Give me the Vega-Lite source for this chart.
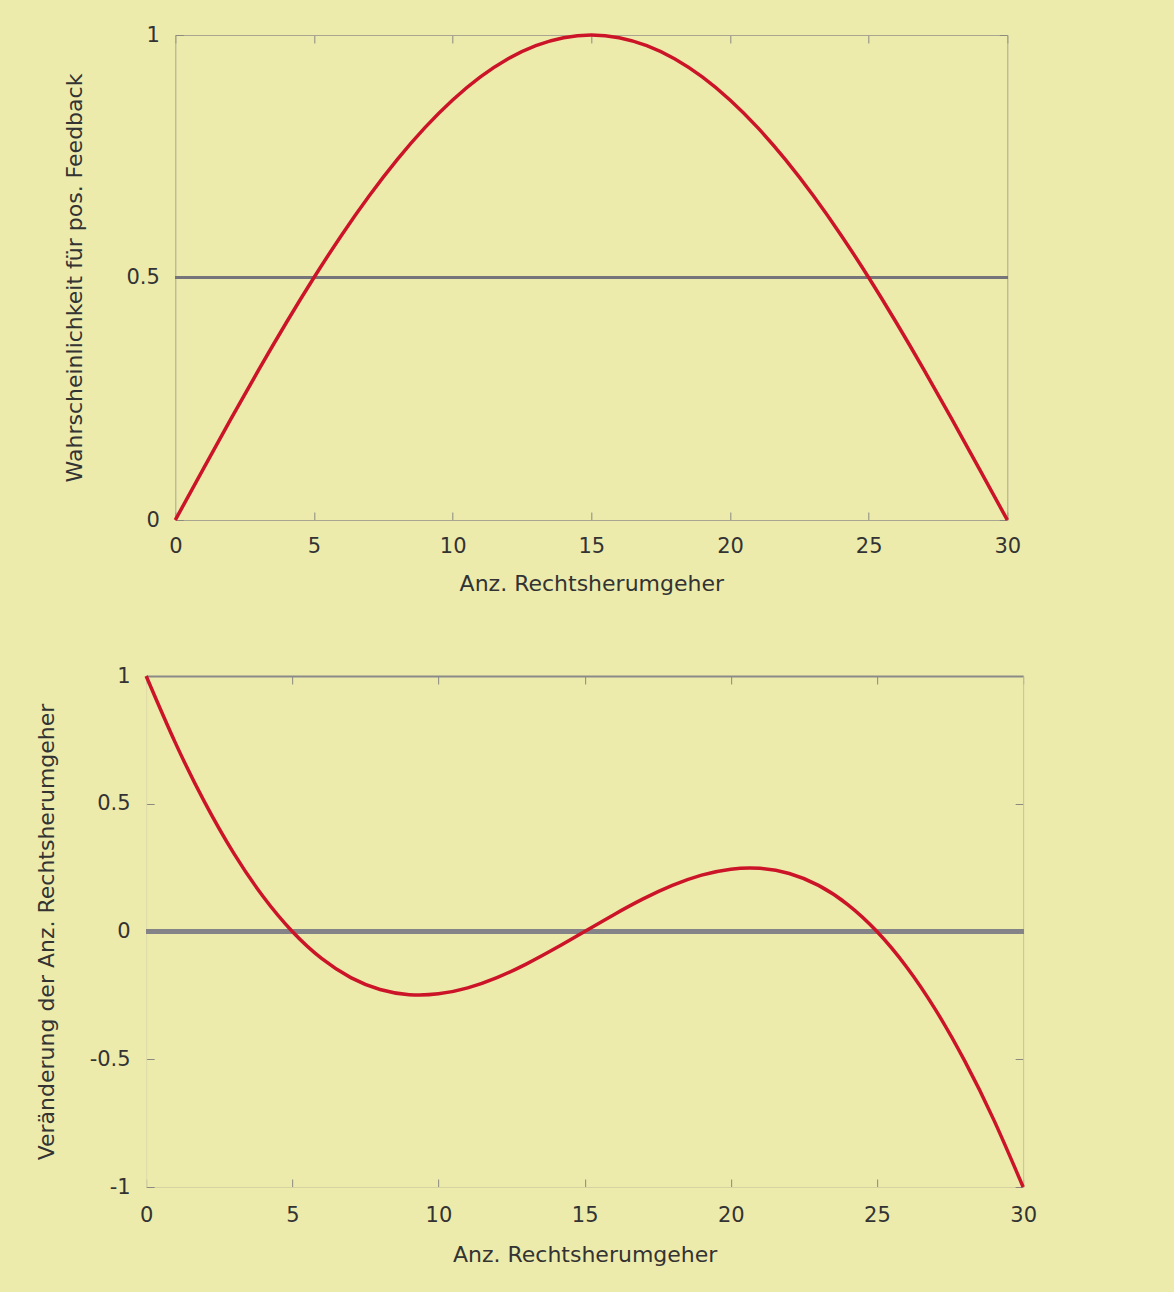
{
  "$schema": "https://vega.github.io/schema/vega-lite/v6.json",
  "background": "#EDEBAC",
  "padding": {"top": 24, "left": 35, "right": 125, "bottom": 27},
  "center": true,
  "spacing": 71,
  "config": {
    "view": {"stroke": null},
    "font": "DejaVu Sans",
    "axis": {
      "grid": false,
      "labelFlush": false,
      "domainColor": "#A8A690",
      "tickColor": "#8A8A80",
      "tickSize": -8,
      "labelFontSize": 21,
      "labelColor": "#333333",
      "titleFontSize": 22,
      "titleFontWeight": "normal",
      "titleColor": "#333333"
    }
  },
  "datasets": {
    "prob": [
      {"x": 0, "p": 0}, {"x": 1, "p": 0.1045}, {"x": 2, "p": 0.2079}, {"x": 3, "p": 0.309},
      {"x": 4, "p": 0.4067}, {"x": 5, "p": 0.5}, {"x": 6, "p": 0.5878}, {"x": 7, "p": 0.6691},
      {"x": 8, "p": 0.7431}, {"x": 9, "p": 0.809}, {"x": 10, "p": 0.866}, {"x": 11, "p": 0.9135},
      {"x": 12, "p": 0.9511}, {"x": 13, "p": 0.9781}, {"x": 14, "p": 0.9945}, {"x": 15, "p": 1},
      {"x": 16, "p": 0.9945}, {"x": 17, "p": 0.9781}, {"x": 18, "p": 0.9511}, {"x": 19, "p": 0.9135},
      {"x": 20, "p": 0.866}, {"x": 21, "p": 0.809}, {"x": 22, "p": 0.7431}, {"x": 23, "p": 0.6691},
      {"x": 24, "p": 0.5878}, {"x": 25, "p": 0.5}, {"x": 26, "p": 0.4067}, {"x": 27, "p": 0.309},
      {"x": 28, "p": 0.2079}, {"x": 29, "p": 0.1045}, {"x": 30, "p": 0}
    ],
    "change": [
      {"x": 0, "v": 1}, {"x": 1, "v": 0.7382}, {"x": 2, "v": 0.5063}, {"x": 3, "v": 0.3056},
      {"x": 4, "v": 0.1368}, {"x": 5, "v": 0}, {"x": 6, "v": -0.1054}, {"x": 7, "v": -0.1804},
      {"x": 8, "v": -0.2269}, {"x": 9, "v": -0.2472}, {"x": 10, "v": -0.244}, {"x": 11, "v": -0.2206},
      {"x": 12, "v": -0.1804}, {"x": 13, "v": -0.1275}, {"x": 14, "v": -0.0659}, {"x": 15, "v": 0},
      {"x": 16, "v": 0.0659}, {"x": 17, "v": 0.1275}, {"x": 18, "v": 0.1804}, {"x": 19, "v": 0.2206},
      {"x": 20, "v": 0.244}, {"x": 21, "v": 0.2472}, {"x": 22, "v": 0.2269}, {"x": 23, "v": 0.1804},
      {"x": 24, "v": 0.1054}, {"x": 25, "v": 0}, {"x": 26, "v": -0.1368}, {"x": 27, "v": -0.3056},
      {"x": 28, "v": -0.5063}, {"x": 29, "v": -0.7382}, {"x": 30, "v": -1}
    ]
  },
  "vconcat": [
    {
      "width": 832,
      "height": 485,
      "data": {"name": "prob"},
      "layer": [
        {
          "mark": {"type": "rule", "color": "#75757A", "strokeWidth": 2},
          "encoding": {"y": {"datum": 0.5, "type": "quantitative", "axis": null}}
        },
        {
          "mark": {"type": "line", "color": "#CC1428", "strokeWidth": 3.5, "interpolate": "natural"},
          "encoding": {
            "x": {
              "field": "x", "type": "quantitative",
              "scale": {"domain": [0, 30], "nice": false, "zero": false},
              "axis": {"orient": "bottom", "values": [0, 5, 10, 15, 20, 25, 30], "labelPadding": 23, "titlePadding": 17, "title": "Anz. Rechtsherumgeher", "labelExpr": "datum.value + ''"}
            },
            "y": {
              "field": "p", "type": "quantitative",
              "scale": {"domain": [0, 1], "nice": false},
              "axis": {"orient": "left", "values": [0, 0.5, 1], "labelPadding": 24, "titlePadding": 39, "title": "Wahrscheinlichkeit für pos. Feedback", "labelExpr": "datum.value + ''"}
            }
          }
        },
        {
          "mark": {"type": "line", "opacity": 0},
          "encoding": {
            "x": {"field": "x", "type": "quantitative", "axis": {"orient": "top", "values": [0, 5, 10, 15, 20, 25, 30], "labels": false, "title": null}},
            "y": {"field": "p", "type": "quantitative", "axis": {"orient": "right", "values": [0, 0.5, 1], "labels": false, "title": null}}
          }
        }
      ],
      "resolve": {"axis": {"x": "independent", "y": "independent"}}
    },
    {
      "width": 877,
      "height": 511,
      "data": {"name": "change"},
      "layer": [
        {
          "mark": {"type": "rule", "color": "#848488", "strokeWidth": 4},
          "encoding": {"y": {"datum": 0, "type": "quantitative", "axis": null}}
        },
        {
          "mark": {"type": "line", "color": "#CC1428", "strokeWidth": 3.5, "interpolate": "natural"},
          "encoding": {
            "x": {
              "field": "x", "type": "quantitative",
              "scale": {"domain": [0, 30], "nice": false, "zero": false},
              "axis": {"orient": "bottom", "values": [0, 5, 10, 15, 20, 25, 30], "labelPadding": 25, "titlePadding": 19, "title": "Anz. Rechtsherumgeher", "domainColor": "#D6D3A0", "labelExpr": "datum.value + ''"}
            },
            "y": {
              "field": "v", "type": "quantitative",
              "scale": {"domain": [-1, 1], "nice": false},
              "axis": {"orient": "left", "values": [-1, -0.5, 0, 0.5, 1], "labelPadding": 24, "titlePadding": 31, "title": "Veränderung der Anz. Rechtsherumgeher", "domainColor": "#DEDBA8", "labelExpr": "datum.value + ''"}
            }
          }
        },
        {
          "mark": {"type": "line", "opacity": 0},
          "encoding": {
            "x": {"field": "x", "type": "quantitative", "axis": {"orient": "top", "values": [0, 5, 10, 15, 20, 25, 30], "labels": false, "title": null, "domainColor": "#8A8A88", "domainWidth": 2}},
            "y": {"field": "v", "type": "quantitative", "axis": {"orient": "right", "values": [-1, -0.5, 0, 0.5, 1], "labels": true, "labelColor": "#EDEBAC", "labelFontSize": 6, "labelPadding": 23, "title": null, "domainColor": "#C4C2A0", "labelExpr": "datum.value + ''"}}
          }
        }
      ],
      "resolve": {"axis": {"x": "independent", "y": "independent"}}
    }
  ]
}
